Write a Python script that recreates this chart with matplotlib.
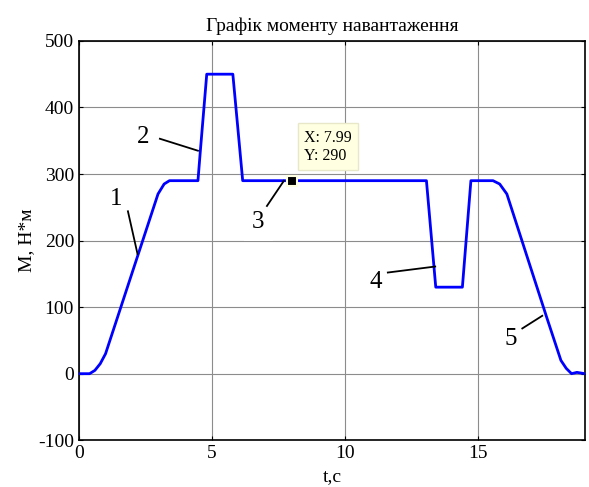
import matplotlib
matplotlib.use("Agg")
import matplotlib.pyplot as plt

plt.rcParams['font.family'] = ['Liberation Serif', 'DejaVu Serif']
plt.rcParams['axes.unicode_minus'] = False

# Data
t = [0, 0.4, 0.6, 0.8, 1.0, 2.97, 3.2, 3.4, 4.47, 4.55, 4.8, 5.78, 6.15,
     13.05, 13.4, 14.4, 14.72, 15.55, 15.8, 16.07, 17.58, 18.1, 18.3, 18.5, 18.7, 19.0]
M = [0, 0, 5, 15, 30, 270, 285, 290, 290, 330, 450, 450, 290,
     290, 130, 130, 290, 290, 285, 270, 83, 20, 8, 0, 2, 0]

title = "Графік моменту навантаження"
xlabel = "t,c"
ylabel = "M, Н*м"
xticks = [0, 5, 10, 15]
yticks = [-100, 0, 100, 200, 300, 400, 500]

# annotation labels: (label, text x, text y, line start, line end)
labels = ["1", "2", "3", "4", "5"]
label_xy = [(1.4, 263), (2.4, 356), (6.73, 228), (11.15, 138), (16.2, 52)]
line_from = [(1.84, 244), (3.04, 353), (7.06, 252), (11.6, 152), (16.65, 68)]
line_to = [(2.2, 180), (4.47, 335), (7.7, 290), (13.38, 161), (17.4, 87)]

tip_x, tip_y = 7.99, 290

fig = plt.figure(figsize=(5.89, 4.87), dpi=100)
ax = fig.add_axes([0.134, 0.096, 0.859, 0.82])

ax.plot(t, M, color='#0000ff', lw=2, zorder=3)

ax.set_xlim(0, 19)
ax.set_ylim(-100, 500)
ax.set_xticks(xticks)
ax.set_yticks(yticks)
ax.grid(True, color='#8c8c8c', lw=0.8)
ax.tick_params(direction='in', top=True, right=True, labelsize=14, length=3, width=0.8)
for s in ax.spines.values():
    s.set_linewidth(1.2)

ax.set_title(title, fontsize=14, pad=7)
ax.set_xlabel(xlabel, fontsize=14, labelpad=4)
ax.set_ylabel(ylabel, fontsize=14, labelpad=2)

for lab, (lx, ly), p0, p1 in zip(labels, label_xy, line_from, line_to):
    ax.plot([p0[0], p1[0]], [p0[1], p1[1]], color='black', lw=1.3, zorder=4)
    if lab == "3":
        ax.text(lx, ly, lab, fontsize=18, ha='center', va='center', zorder=2,
                bbox=dict(facecolor='white', edgecolor='none', pad=6))
    else:
        ax.text(lx, ly, lab, fontsize=18, ha='center', va='center', zorder=5)

# data tip
ax.plot([tip_x], [tip_y], marker='s', markersize=7, color='black',
        markeredgecolor='#ffffe1', markeredgewidth=1.5, zorder=6)
ax.annotate(f"X: {tip_x}\nY: {tip_y}", xy=(tip_x, tip_y), xytext=(8.45, 341),
            fontsize=11.5, ha='left', va='center', linespacing=1.2, zorder=6,
            bbox=dict(boxstyle='square,pad=0.4', facecolor='#ffffe1', edgecolor='#e8e8c8'))

fig.savefig("out.png", dpi=100)
